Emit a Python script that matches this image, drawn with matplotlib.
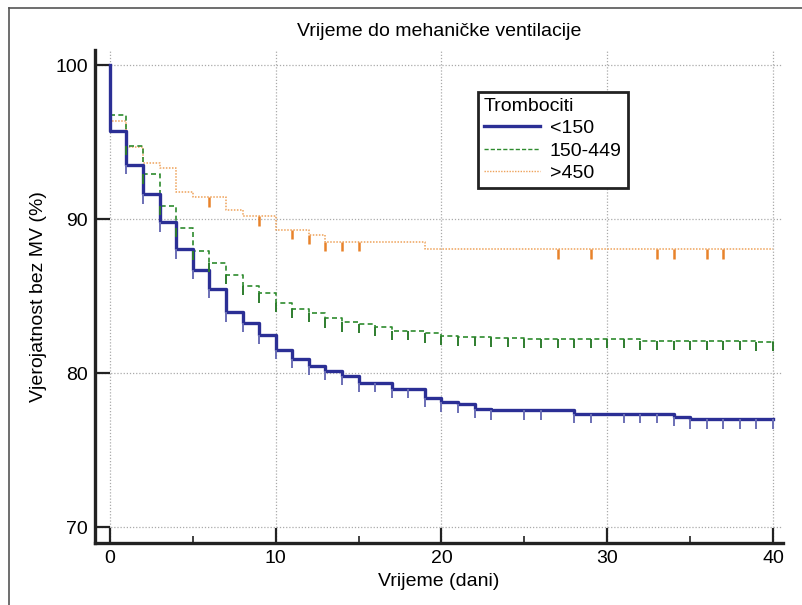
import numpy as np
import matplotlib
matplotlib.use("Agg")
import matplotlib.pyplot as plt
from matplotlib.lines import Line2D

plt.rcParams['font.family'] = ['Liberation Sans', 'DejaVu Sans']

# Kaplan-Meier steps: day of the drop and survival (%) after it
blue_t = [0, 1, 2, 3, 4, 5, 6, 7, 8, 9, 10, 11, 12, 13, 14, 15, 17, 19, 20, 21, 22, 23, 28, 34, 35]
blue_s = [95.77, 93.54, 91.63, 89.8, 88.06, 86.72, 85.5, 83.97, 83.28, 82.48, 81.55, 80.95,
          80.5, 80.17, 79.84, 79.38, 78.98, 78.42, 78.12, 78.0, 77.7, 77.6, 77.37, 77.2, 77.02]
blue_cens = list(range(1, 24)) + [25, 26, 28, 29] + list(range(31, 41))

green_t = [0, 1, 2, 3, 4, 5, 6, 7, 8, 9, 10, 11, 12, 13, 14, 15, 16, 17, 19, 20, 21, 22, 23, 25, 32, 39]
green_s = [96.79, 94.77, 92.93, 90.9, 89.43, 87.97, 87.2, 86.4, 85.68, 85.2, 84.56, 84.17, 83.91,
           83.58, 83.32, 83.21, 83.04, 82.74, 82.6, 82.46, 82.39, 82.35, 82.31, 82.24, 82.13, 82.04]
green_cens = list(range(1, 41))

orange_t = [0, 1, 2, 3, 4, 5, 7, 8, 10, 12, 13, 19]
orange_s = [96.4, 94.7, 93.67, 93.35, 91.76, 91.43, 90.62, 90.2, 89.32, 88.99, 88.52, 88.06]
orange_cens = [6, 9, 11, 12, 13, 14, 15, 27, 29, 33, 34, 36, 37]

t_end = 40
labels = ['<150', '150-449', '>450']


def level_at(t, times, surv):
    idx = np.searchsorted(times, t, side='right') - 1
    return surv[idx]


fig = plt.figure(figsize=(8.03, 6.05), dpi=100)
ax = fig.add_axes([95/803, 1-543/605, (783-95)/803, (543-50)/605])

ax.set_xlim(-0.9, 40.6)
ax.set_ylim(68.99, 101.0)

ax.grid(True, color='#aaaaaa', linestyle=(0, (1, 1.5)), linewidth=0.9)
ax.set_axisbelow(True)

series = [
    (blue_t, blue_s, blue_cens, dict(color='#2b2f95', lw=2.4, ls='-'), '#6b6fb5', 1.4),
    (green_t, green_s, green_cens, dict(color='#2e8b2e', lw=1.2, ls=(0, (3, 2))), '#2e7d2e', 1.4),
    (orange_t, orange_s, orange_cens, dict(color='#eea25a', lw=1.1, ls=(0, (1, 1))), '#e8822a', 1.8),
]

tick_len = 0.6
for times, surv, cens, style, tcol, tlw in series[::-1]:
    x = [0] + list(times) + [t_end]
    y = [100] + list(surv) + [surv[-1]]
    ax.step(x, y, where='post', zorder=3, **style)
    for c in cens:
        v = level_at(c, times, surv)
        ax.plot([c, c], [v, v - tick_len], color=tcol, lw=tlw, zorder=4, solid_capstyle='butt')

# final drop of the green curve at day 40
ax.plot([t_end, t_end], [green_s[-1], 81.95], color='#2e8b2e', lw=1.2, zorder=3)

ax.set_xticks([0, 10, 20, 30, 40])
ax.set_xticks([5, 15, 25, 35], minor=True)
ax.set_yticks([70, 80, 90, 100])
ax.tick_params(axis='both', which='major', direction='in', length=11, width=1.6,
               labelsize=14, color='#222222', pad=5)
ax.tick_params(axis='x', which='minor', direction='in', length=5, width=1.2, color='#222222')

for side in ['top', 'right']:
    ax.spines[side].set_visible(False)
for side in ['left', 'bottom']:
    ax.spines[side].set_linewidth(2.4)
    ax.spines[side].set_color('#222222')

ax.set_xlabel('Vrijeme (dani)', fontsize=14, labelpad=4)
ax.set_ylabel('Vjerojatnost bez MV (%)', fontsize=14, labelpad=6)
ax.set_title('Vrijeme do mehaničke ventilacije', fontsize=14, pad=10)

handles = [
    Line2D([], [], color='#2b2f95', lw=2.4, ls='-'),
    Line2D([], [], color='#2e8b2e', lw=1.0, ls=(0, (3, 1.5))),
    Line2D([], [], color='#eea25a', lw=1.0, ls=(0, (1, 1))),
]
leg = ax.legend(handles, labels, title='Trombociti', loc='upper left',
                bbox_to_anchor=(478/803, 1-92/605), bbox_transform=fig.transFigure,
                borderaxespad=0, fancybox=False, framealpha=1, edgecolor='#222222',
                fontsize=14, title_fontsize=14, handlelength=2.9, handletextpad=0.5,
                borderpad=0.3, labelspacing=0.25, alignment='left')
leg.get_frame().set_linewidth(2.0)

# outer frame of the picture
fig.add_artist(Line2D([9/803, 9/803], [0, 1-8/605], transform=fig.transFigure, color='#555555', lw=1.2))
fig.add_artist(Line2D([9/803, 1], [1-8/605, 1-8/605], transform=fig.transFigure, color='#555555', lw=1.2))

fig.savefig('out.png', dpi=100)
